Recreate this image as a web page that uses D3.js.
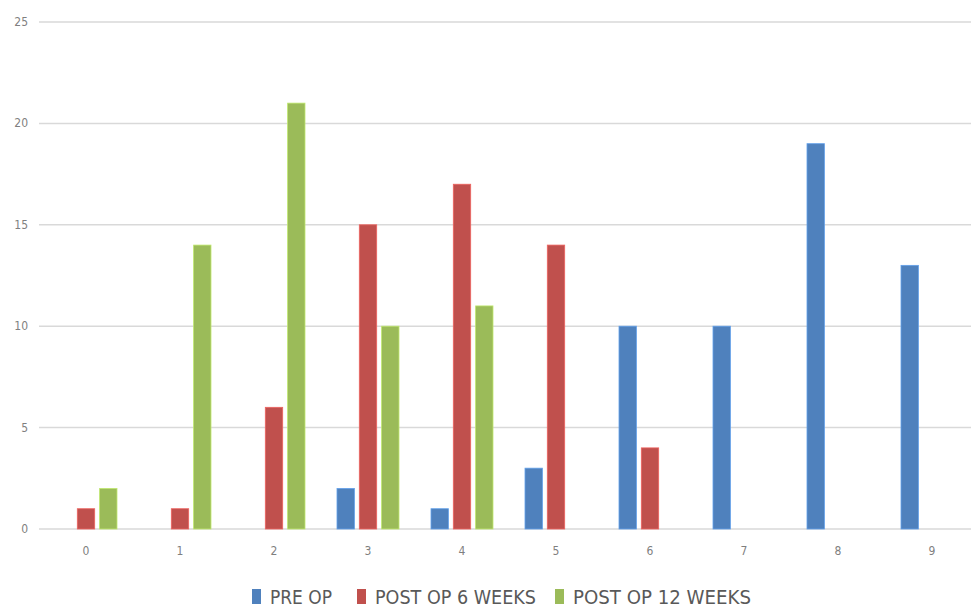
<!DOCTYPE html>
<html>
<head>
<meta charset="utf-8">
<script src="https://cdn.jsdelivr.net/npm/d3@7"></script>
<style>
  body { margin: 0; background: #fff; }
  text { font-family: "Liberation Sans Narrow", "DejaVu Sans Condensed", "Open Sans", sans-serif; }
</style>
</head>
<body>
<script>
var categories = ["0","1","2","3","4","5","6","7","8","9"];
var seriesNames = ["PRE OP", "POST OP 6 WEEKS", "POST OP 12 WEEKS"];
var preOp   = [0, 0, 0, 2, 1, 3, 10, 10, 19, 13];
var post6   = [1, 1, 6, 15, 17, 14, 4, 0, 0, 0];
var post12  = [2, 14, 21, 10, 11, 0, 0, 0, 0, 0];
var yTicks  = [0, 5, 10, 15, 20, 25];
var colors  = ["#4f81bd", "#c0504d", "#9bbb59"];

var width = 971, height = 608;
var svg = d3.select("body").append("svg")
    .attr("width", width)
    .attr("height", height);

var x = d3.scaleBand().domain(categories).range([39, 979]).padding(0);
var y = d3.scaleLinear().domain([0, 25]).range([529, 22]);
var inner = d3.scaleBand().domain(d3.range(3)).range([-31, 31]).paddingInner(0.22);

// gridlines
svg.append("g")
  .selectAll("line")
  .data(yTicks)
  .enter()
  .append("line")
  .attr("x1", 39).attr("x2", width)
  .attr("y1", function(d){ return y(d); })
  .attr("y2", function(d){ return y(d); })
  .attr("stroke", "#d9d9d9")
  .attr("stroke-width", 1.5);

// y labels
svg.append("g")
  .selectAll("text")
  .data(yTicks)
  .enter()
  .append("text")
  .attr("x", 28)
  .attr("y", function(d){ return y(d) + 4; })
  .attr("text-anchor", "end")
  .attr("font-size", 12)
  .attr("fill", "#7f7f7f")
  .text(function(d){ return d; });

// x labels
svg.append("g")
  .selectAll("text")
  .data(categories)
  .enter()
  .append("text")
  .attr("x", function(d){ return x(d) + x.bandwidth()/2; })
  .attr("y", 555)
  .attr("text-anchor", "middle")
  .attr("font-size", 12)
  .attr("fill", "#7f7f7f")
  .text(function(d){ return d; });

// bars
var allSeries = [preOp, post6, post12];
allSeries.forEach(function(vals, s){
  svg.append("g")
    .selectAll("rect")
    .data(vals)
    .enter()
    .append("rect")
    .attr("x", function(d, i){ return x(categories[i]) + x.bandwidth()/2 + inner(s); })
    .attr("width", inner.bandwidth())
    .attr("y", function(d){ return y(d); })
    .attr("height", function(d){ return y(0) - y(d); })
    .attr("fill", colors[s])
    .attr("stroke", d3.color(colors[s]).brighter(0.6))
    .attr("stroke-width", 0.8);
});

// legend
var legendX = [252, 357, 555];
var legendW = [62, 161, 178];
var lg = svg.append("g");
seriesNames.forEach(function(name, s){
  lg.append("rect")
    .attr("x", legendX[s]).attr("y", 589)
    .attr("width", 9).attr("height", 15)
    .attr("fill", colors[s]);
  lg.append("text")
    .attr("x", legendX[s] + 18)
    .attr("y", 604)
    .attr("font-size", 19)
    .attr("fill", "#595959")
    .attr("textLength", legendW[s])
    .attr("lengthAdjust", "spacingAndGlyphs")
    .text(name);
});
</script>
</body>
</html>
